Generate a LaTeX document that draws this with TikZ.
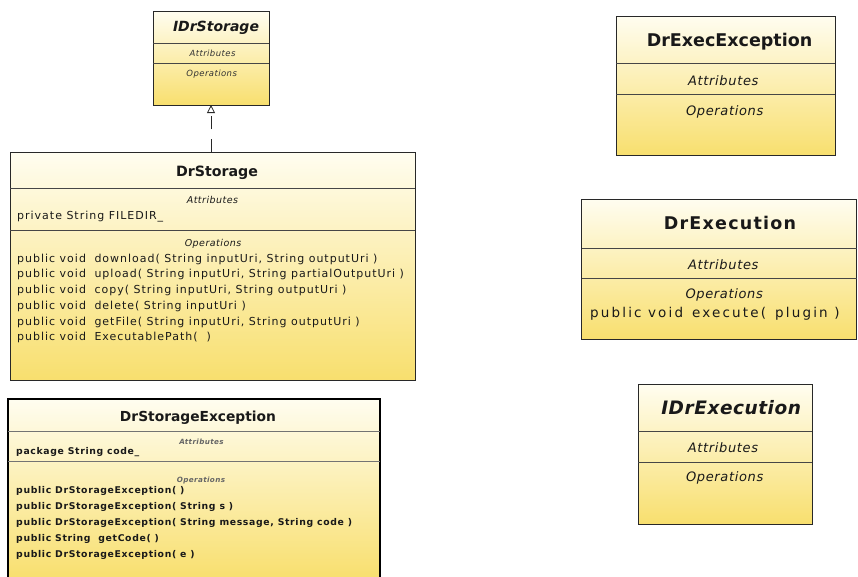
\documentclass[tikz,border=0pt]{standalone}
\usepackage{fontspec}
\setmainfont{DejaVu Sans}
\usetikzlibrary{arrows.meta}

\definecolor{umltop}{RGB}{255,253,240}
\definecolor{umlbot}{RGB}{248,223,110}
\definecolor{edge}{RGB}{40,40,40}
\definecolor{rule}{RGB}{70,70,70}
\definecolor{ink}{RGB}{25,25,25}

% font size + letter spacing in one go
\newcommand\ufs[2]{\fontsize{#1}{#1}\selectfont\addfontfeatures{LetterSpace=#2}}

\begin{document}
\begin{tikzpicture}[x=1pt,y=-1pt,
  classbox/.style={draw=edge, line width=1pt, top color=umltop, bottom color=umlbot,
                   inner sep=0pt, outer sep=0pt, anchor=north west},
  rulediv/.style={draw=rule, line width=0.9pt},
  lab/.style={inner sep=0pt, anchor=mid, text=ink},
  row/.style={inner sep=0pt, anchor=mid west, text=ink},
  bigdrop/.style={yshift=-3.5pt},
  middrop/.style={yshift=-2pt},
  smalldrop/.style={yshift=-1.5pt},
  impl/.style={draw=edge, line width=0.8pt, dash pattern=on 13pt off 10pt,
               -{Triangle[open,length=8pt,width=8pt]}}
]
\useasboundingbox (0,0) rectangle (858,576);

% ---------------- IDrStorage ----------------
\node[classbox, minimum width=116pt, minimum height=94pt] (idrs) at (153,11) {};
\draw[rulediv] (153,43) -- (269,43);
\draw[rulediv] (153,63) -- (269,63);
\node[lab, bigdrop, font=\ufs{14}{0}\bfseries\itshape] (idrs-t) at (216,25) {IDrStorage};
\node[lab, smalldrop, text=black!80, font=\ufs{8.5}{5}\itshape] (idrs-a) at (212.5,52) {Attributes};
\node[lab, smalldrop, text=black!80, font=\ufs{8.5}{5}\itshape] (idrs-o) at (211.7,72) {Operations};

% ---------------- DrStorage ----------------
\node[classbox, minimum width=405pt, minimum height=227.7pt] (drs) at (10,152.3) {};
\draw[rulediv] (10,188.3) -- (415,188.3);
\draw[rulediv, line width=1.4pt] (10,230.7) -- (415,230.7);
\node[lab, bigdrop, font=\ufs{14.2}{0}\bfseries] (drs-t) at (217,170) {DrStorage};
\node[lab, middrop, font=\ufs{9.5}{5}\itshape] (drs-a) at (212.5,199) {Attributes};
\node[row, middrop, font=\ufs{11}{9}] (drs-a1) at (17,215) {private String FILEDIR\_};
\node[lab, middrop, font=\ufs{9.5}{5}\itshape] (drs-o) at (213,241.7) {Operations};
\begin{scope}[every node/.append style={row, middrop, font=\ufs{11}{9}}]
  \node (drs-o1) at (17,257.7) {\makebox[77.3pt][l]{public void}download( String inputUri, String outputUri )};
  \node (drs-o2) at (17,273)   {\makebox[77.3pt][l]{public void}upload( String inputUri, String partialOutputUri )};
  \node (drs-o3) at (17,289)   {\makebox[77.3pt][l]{public void}copy( String inputUri, String outputUri )};
  \node (drs-o4) at (17,305)   {\makebox[77.3pt][l]{public void}delete( String inputUri )};
  \node (drs-o5) at (17,320.7) {\makebox[77.3pt][l]{public void}getFile( String inputUri, String outputUri )};
  \node (drs-o6) at (17,335.7) {\makebox[77.3pt][l]{public void}ExecutablePath( ~)};
\end{scope}

% realization: DrStorage implements IDrStorage
\draw[impl] (drs.north -| idrs.south) -- (idrs.south);

% ---------------- DrStorageException ----------------
\node[classbox, line width=1.6pt, draw=black, minimum width=372pt, minimum height=180pt] (dse) at (8,399) {};
\draw[draw=black!55, line width=1pt] (8,431.7) -- (380,431.7);
\draw[draw=black!55, line width=1pt] (8,461.7) -- (380,461.7);
\node[lab, bigdrop, font=\ufs{13.8}{0}\bfseries] (dse-t) at (198,415) {DrStorageException};
\node[lab, smalldrop, text=black!60, font=\ufs{7.2}{5}\bfseries\itshape] (dse-a) at (201.5,440) {Attributes};
\node[row, smalldrop, font=\ufs{9.3}{7}\bfseries] (dse-a1) at (16,450.5) {package String code\_};
\node[lab, smalldrop, text=black!60, font=\ufs{7.2}{5}\bfseries\itshape] (dse-o) at (201,478.3) {Operations};
\begin{scope}[every node/.append style={row, smalldrop, font=\ufs{9.3}{7}\bfseries}]
  \node (dse-o1) at (16,489.3) {public DrStorageException( )};
  \node (dse-o2) at (16,505)   {public DrStorageException( String s )};
  \node (dse-o3) at (16,521.7) {public DrStorageException( String message, String code )};
  \node (dse-o4) at (16,537.7) {public String~ getCode( )};
  \node (dse-o5) at (16,553.3) {public DrStorageException( e )};
\end{scope}

% ---------------- DrExecException ----------------
\node[classbox, minimum width=219pt, minimum height=139.7pt] (dee) at (616,16) {};
\draw[rulediv] (616,63.3) -- (835,63.3);
\draw[rulediv] (616,94) -- (835,94);
\node[lab, bigdrop, font=\ufs{17.5}{0}\bfseries] (dee-t) at (729.5,40) {DrExecException};
\node[lab, bigdrop, font=\ufs{13}{5}\itshape] (dee-a) at (723.3,79) {Attributes};
\node[lab, bigdrop, font=\ufs{13}{5}\itshape] (dee-o) at (724.7,109) {Operations};

% ---------------- DrExecution ----------------
\node[classbox, minimum width=275pt, minimum height=140pt] (dex) at (581.7,199.3) {};
\draw[rulediv] (581.7,248.3) -- (856.7,248.3);
\draw[rulediv] (581.7,278.3) -- (856.7,278.3);
\node[lab, bigdrop, font=\ufs{17.5}{7}\bfseries] (dex-t) at (730,223) {DrExecution};
\node[lab, bigdrop, font=\ufs{13}{5}\itshape] (dex-a) at (723.3,263) {Attributes};
\node[lab, bigdrop, font=\ufs{13}{5}\itshape] (dex-o) at (724.2,292.7) {Operations};
\node[row, bigdrop, font=\ufs{13.5}{16}] (dex-o1) at (590,311)
  {\makebox[102pt][l]{public void}\makebox[83pt][l]{execute(}plugin )};

% ---------------- IDrExecution ----------------
\node[classbox, minimum width=174pt, minimum height=139.7pt] (idex) at (638.3,384.3) {};
\draw[rulediv] (638.3,431.7) -- (812.3,431.7);
\draw[rulediv] (638.3,462.3) -- (812.3,462.3);
\node[lab, bigdrop, font=\ufs{18.5}{3}\bfseries\itshape] (idex-t) at (731.2,408.3) {IDrExecution};
\node[lab, bigdrop, font=\ufs{13}{5}\itshape] (idex-a) at (723,446.7) {Attributes};
\node[lab, bigdrop, font=\ufs{13}{5}\itshape] (idex-o) at (724.7,475) {Operations};
\end{tikzpicture}
\end{document}
